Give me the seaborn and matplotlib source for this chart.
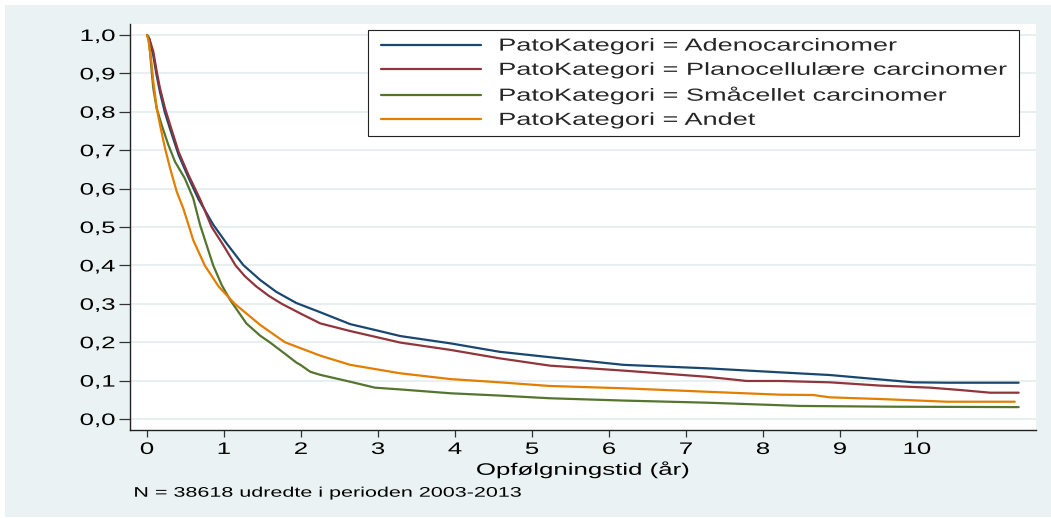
import matplotlib
matplotlib.use("Agg")
import matplotlib.pyplot as plt
import seaborn as sns
from matplotlib.patheffects import AbstractPathEffect
from matplotlib.transforms import Affine2D
from matplotlib.patches import Rectangle

# ---------------- data ----------------
group_var = "PatoKategori"
categories = ["Adenocarcinomer", "Planocellulære carcinomer",
              "Småcellet carcinomer", "Andet"]

t_adeno = [0.0, 0.03, 0.08, 0.125, 0.17, 0.23, 0.30, 0.41, 0.54, 0.67, 0.86, 1.035,
           1.25, 1.47, 1.68, 1.94, 2.25, 2.64, 3.0, 3.29, 3.94, 4.58, 5.23, 6.19, 7.27,
           8.22, 8.87, 9.52, 9.95, 10.4, 11.32]
s_adeno = [1.0, 0.99, 0.948, 0.895, 0.85, 0.80, 0.755, 0.688, 0.628, 0.572, 0.506, 0.457,
           0.401, 0.362, 0.331, 0.302, 0.278, 0.247, 0.23, 0.216, 0.197, 0.175, 0.161, 0.141, 0.132,
           0.1215, 0.1145, 0.103, 0.0955, 0.0945, 0.0945]

t_plano = [0.0, 0.03, 0.082, 0.126, 0.169, 0.234, 0.30, 0.41, 0.54, 0.69, 0.84, 0.99,
           1.15, 1.27, 1.42, 1.58, 1.75, 1.99, 2.25, 2.64, 3.29, 3.94, 4.58, 5.23, 6.19, 7.27,
           7.79, 8.22, 8.87, 9.52, 10.17, 10.56, 10.95, 11.32]
s_plano = [1.0, 0.99, 0.957, 0.905, 0.861, 0.809, 0.766, 0.696, 0.635, 0.572, 0.50, 0.453,
           0.40, 0.372, 0.345, 0.321, 0.30, 0.275, 0.249, 0.229, 0.199, 0.18, 0.158, 0.139, 0.126, 0.11,
           0.099, 0.099, 0.0955, 0.087, 0.0816, 0.0755, 0.0685, 0.0685]

t_small = [0.0, 0.017, 0.039, 0.061, 0.082, 0.126, 0.19, 0.277, 0.364, 0.49, 0.60, 0.69,
           0.86, 0.97, 1.08, 1.29, 1.47, 1.6, 1.81, 1.94, 2.0, 2.12, 2.25, 2.64, 2.96, 3.29,
           3.94, 4.58, 5.23, 6.19, 7.27, 8.13, 8.48, 9.69, 11.32]
s_small = [1.0, 0.996, 0.957, 0.905, 0.861, 0.809, 0.766, 0.714, 0.67, 0.627, 0.575, 0.505,
           0.40, 0.349, 0.31, 0.249, 0.217, 0.199, 0.167, 0.147, 0.14, 0.123, 0.115, 0.097, 0.0816, 0.077,
           0.067, 0.061, 0.054, 0.048, 0.0425, 0.0365, 0.034, 0.032, 0.031]

t_andet = [0.0, 0.02, 0.052, 0.082, 0.126, 0.169, 0.234, 0.30, 0.386, 0.47, 0.54, 0.60,
           0.75, 0.93, 1.14, 1.47, 1.79, 2.0, 2.25, 2.64, 3.29, 3.94, 4.58, 5.23, 6.19, 7.27,
           8.22, 8.65, 8.87, 9.52, 9.95, 10.39, 11.27]
s_andet = [1.0, 0.985, 0.939, 0.879, 0.809, 0.766, 0.705, 0.653, 0.592, 0.549, 0.505, 0.466,
           0.40, 0.345, 0.30, 0.245, 0.20, 0.184, 0.165, 0.141, 0.119, 0.104, 0.0955, 0.086, 0.080, 0.071,
           0.0633, 0.0625, 0.0564, 0.052, 0.0486, 0.045, 0.045]

x_ticks = [0, 1, 2, 3, 4, 5, 6, 7, 8, 9, 10]
x_tick_labels = ["0", "1", "2", "3", "4", "5", "6", "7", "8", "9", "10"]
y_ticks = [0.0, 0.1, 0.2, 0.3, 0.4, 0.5, 0.6, 0.7, 0.8, 0.9, 1.0]
y_tick_labels = ["0,0", "0,1", "0,2", "0,3", "0,4", "0,5",
                 "0,6", "0,7", "0,8", "0,9", "1,0"]
x_label = "Opfølgningstid (år)"
note = "N = 38618 udredte i perioden 2003-2013"

# ---------------- style ----------------
colors = ["#1a476f", "#90353b", "#55752f", "#e37e00"]
BG = "#EAF2F3"
S = 1.55  # horizontal stretch of the lettering in the reference

sns.set_theme(style="white")
plt.rcParams["font.family"] = ["Liberation Sans", "DejaVu Sans"]


class HStretch(AbstractPathEffect):
    """Widen glyph paths horizontally about an anchor."""

    def __init__(self, sx, anchor="left", x0=None):
        super().__init__()
        self.sx = sx
        self.anchor = anchor
        self.x0 = x0

    def draw_path(self, renderer, gc, tpath, affine, rgbFace=None):
        if self.x0 is not None:
            xa = self.x0
        else:
            ext = tpath.get_extents(affine)
            xa = {"left": ext.x0, "center": 0.5 * (ext.x0 + ext.x1),
                  "right": ext.x1}[self.anchor]
        aff = affine + Affine2D().translate(-xa, 0).scale(self.sx, 1).translate(xa, 0)
        renderer.draw_path(gc, tpath, aff, rgbFace)


W, H = 1051, 518
fig = plt.figure(figsize=(W / 100, H / 100), dpi=100, facecolor="white")
fig.add_artist(Rectangle((5 / W, 1 / H), 1 - 5 / W, 1 - 6 / H, transform=fig.transFigure,
                         facecolor=BG, edgecolor="none", zorder=-10))

ax = fig.add_axes([130 / W, (H - 430) / H, 906 / W, 406 / H])
ax.set_facecolor("white")

series = [(t_adeno, s_adeno), (t_plano, s_plano), (t_small, s_small), (t_andet, s_andet)]
for (t, s), cat, col in zip(series, categories, colors):
    sns.lineplot(x=t, y=s, ax=ax, color=col, lw=1.6, label=f"{group_var} = {cat}",
                 legend=False)

ax.set_xlim((130 - 147) / 77, (1036 - 147) / 77)
ax.set_ylim((419 - 430) / 384, (419 - 24) / 384)

ax.set_xticks(x_ticks, labels=x_tick_labels)
ax.set_yticks(y_ticks, labels=y_tick_labels)
ax.grid(axis="y", color="#E6EEF0", lw=1.3)
ax.grid(axis="x", visible=False)
ax.set_axisbelow(True)

for side in ["top", "right"]:
    ax.spines[side].set_visible(False)
for side in ["left", "bottom"]:
    ax.spines[side].set_color("#222222")
    ax.spines[side].set_linewidth(1.0)

ax.tick_params(axis="y", which="major", direction="out", length=7.9, width=0.9,
               color="#333333", pad=2.9, labelsize=12, labelcolor="black", left=True)
ax.tick_params(axis="x", which="major", direction="out", length=5, width=0.9,
               color="#333333", pad=3.6, labelsize=12, labelcolor="black", bottom=True)

ax.set_xlabel(x_label, fontsize=12, color="black")
ax.set_ylabel("")
ax.xaxis.set_label_coords(0.5, -0.076)

leg = ax.legend(loc="upper left", bbox_to_anchor=(368 / W, 1 - 30 / H),
                bbox_transform=fig.transFigure, borderaxespad=0, fontsize=12.6,
                handlelength=3.69, handletextpad=0.63, borderpad=0.48,
                labelspacing=0.51, frameon=True, fancybox=False, framealpha=1,
                edgecolor="#222222", facecolor="white")
leg.get_frame().set_linewidth(0.8)

fig.text(134 / W, (H - 496.7) / H, note, fontsize=10, ha="left", va="baseline",
         color="black", path_effects=[HStretch(S, "left")])

# widen lettering like the reference
for lab in ax.get_yticklabels():
    lab.set_path_effects([HStretch(S, "right")])
for lab in ax.get_xticklabels():
    lab.set_path_effects([HStretch(S, "center")])
ax.xaxis.label.set_path_effects([HStretch(S, "center")])

pe_leg = [HStretch(S, x0=368.0)]
leg.legendPatch.set_path_effects(pe_leg)
for ln in leg.get_lines():
    ln.set_path_effects(pe_leg)
for tx in leg.get_texts():
    tx.set_path_effects(pe_leg)

fig.savefig("out.png", dpi=100, facecolor=fig.get_facecolor())
